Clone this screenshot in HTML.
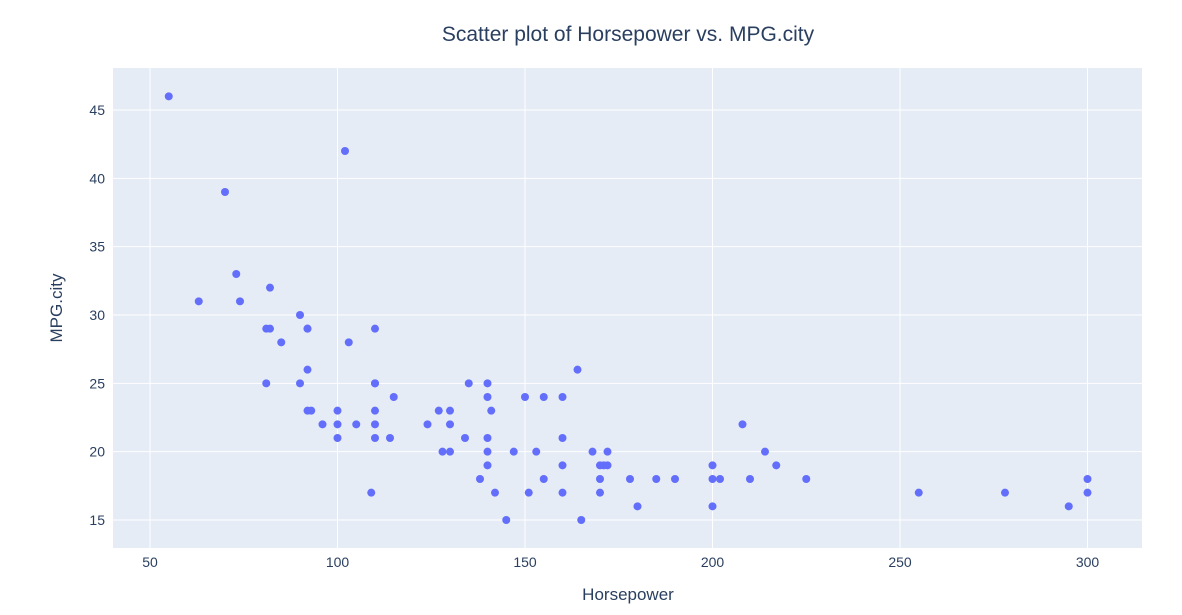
<!DOCTYPE html>
<html><head><meta charset="utf-8"><style>
body{margin:0;background:#fff;font-family:"Liberation Sans",sans-serif}
svg text{fill:#2a3f5f;font-family:"Liberation Sans",sans-serif}
</style></head><body>
<svg id="chart" width="1182" height="610">
<rect x="0" y="0" width="1182" height="610" fill="#fff"/>
<rect x="113" y="68" width="1029" height="480" fill="#e5ecf6"/>
<g id="grid"></g><g id="ticks"></g><g id="marks"></g>
<text x="628" y="41" font-size="21" text-anchor="middle">Scatter plot of Horsepower vs. MPG.city</text>
<text x="628" y="600" font-size="17" text-anchor="middle">Horsepower</text>
<text x="62" y="308" font-size="17" text-anchor="middle" transform="rotate(-90 62 308)">MPG.city</text>
</svg>
<script>
const horsepower=[55,102,70,73,63,74,82,81,82,90,92,92,110,85,103,92,164,81,90,110,110,135,140,115,140,150,155,160,92,93,100,110,127,130,141,96,100,105,110,124,130,208,100,110,114,134,140,160,128,130,140,147,153,168,172,214,140,160,170,171,172,200,217,138,155,170,178,185,190,200,202,210,225,300,109,142,151,160,170,255,278,300,180,200,295,145,165];
const mpgCity=[46,42,39,33,31,31,32,29,29,30,29,29,29,28,28,26,26,25,25,25,25,25,25,24,24,24,24,24,23,23,23,23,23,23,23,22,22,22,22,22,22,22,21,21,21,21,21,21,20,20,20,20,20,20,20,20,19,19,19,19,19,19,19,18,18,18,18,18,18,18,18,18,18,18,17,17,17,17,17,17,17,17,16,16,16,15,15];
const xTicks=[50,100,150,200,250,300];
const yTicks=[15,20,25,30,35,40,45];
const NS="http://www.w3.org/2000/svg";
function xs(v){return 150+(v-50)*3.75;}
function ys(v){return 520-(v-15)*13.667;}
const grid=document.getElementById('grid'),ticks=document.getElementById('ticks'),marks=document.getElementById('marks');
function mk(tag,attrs,parent){const e=document.createElementNS(NS,tag);for(const k in attrs)e.setAttribute(k,attrs[k]);parent.appendChild(e);return e;}
xTicks.forEach(t=>{
 const l=mk('line',{x1:xs(t),x2:xs(t),y1:68,y2:548,stroke:'#fff','stroke-width':1},grid);
 
 
 const tx=mk('text',{x:xs(t),y:567,'font-size':14,'text-anchor':'middle'},ticks);tx.textContent=t;
 
 
});
yTicks.forEach(t=>{
 const l=mk('line',{x1:113,x2:1142,y1:ys(t),y2:ys(t),stroke:'#fff','stroke-width':1},grid);
 
 
 const tx=mk('text',{x:105,y:ys(t)+5,'font-size':14,'text-anchor':'end'},ticks);tx.textContent=t;
 
 
});
horsepower.forEach((h,i)=>{
 const c=mk('circle',{cx:xs(h),cy:ys(mpgCity[i]),r:4,fill:'#636efa'},marks);
 
 
});
</script>
</body></html>
